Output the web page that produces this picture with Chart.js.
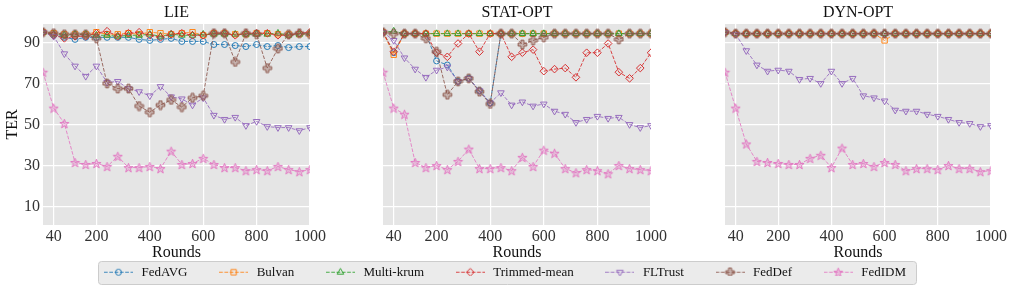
<!DOCTYPE html>
<html>
<head>
<meta charset="utf-8">
<script src="https://cdn.jsdelivr.net/npm/chart.js@4"></script>
<style>
  html, body { margin: 0; padding: 0; background: #fff; }
  #wrap { position: relative; width: 1016px; height: 307px; overflow: hidden; }
  #wrap canvas { position: absolute; left: 0; top: 0; }
</style>
</head>
<body>
<div id="wrap">
  <canvas id="lie" width="1016" height="307"></canvas>
  <canvas id="stat" width="1016" height="307"></canvas>
  <canvas id="dyn" width="1016" height="307"></canvas>
  <canvas id="legend" width="1016" height="80" style="top:236px"></canvas>
</div>
<script>
// x positions (rounds) and axis ticks
const rounds = [0, 40, 80, 120, 160, 200, 240, 280, 320, 360, 400, 440, 480, 520, 560, 600, 640, 680, 720, 760, 800, 840, 880, 920, 960, 1000];
const xTicks = [40, 200, 400, 600, 800, 1000];
const yTicks = [10, 30, 50, 70, 90];
const methods = ['FedAVG', 'Bulyan', 'Multi-krum', 'Trimmed-mean', 'FLTrust', 'FedDef', 'FedIDM'];

// LIE
const lieFedAVG = [95, 93.5, 92.5, 91.5, 92.5, 92.5, 92.5, 92.5, 92.5, 91.5, 91, 91.5, 92, 90.5, 90.5, 90.5, 89, 89, 88.5, 88, 89, 88, 88.5, 87.5, 88, 88];
const lieBulyan = [95, 94.5, 94, 94, 94, 95, 94, 94, 94.5, 94, 95, 94.5, 94, 94.5, 95, 93.5, 94.5, 94.5, 94, 94, 94.5, 94.5, 94, 94, 94, 94];
const lieMultiKrum = [95, 94, 93.5, 94, 94, 93.5, 93.5, 93, 93.5, 93.5, 94, 93, 94, 93.5, 93.5, 94, 94, 94, 94, 94, 94, 94, 94.5, 93.5, 94, 94.5];
const lieTrimmed = [95, 93.5, 92, 93, 93, 94.5, 95.5, 93, 94.5, 95, 93.5, 92.5, 94, 94.5, 93.5, 93.5, 94.5, 94.5, 93.5, 94.5, 94.5, 94.5, 93.5, 93.5, 94.5, 95];
const lieFLTrust = [95, 93, 84.5, 78.5, 73.5, 78.5, 70.5, 71, 67.5, 66, 64, 68.5, 63.5, 62.5, 59.5, 63, 54.5, 52.5, 53.5, 49.5, 51.5, 49, 48.5, 48.5, 47, 48.5];
const lieFedDef = [95, 94.5, 94, 94, 94, 92, 70, 67.5, 67.5, 59, 56, 59.5, 62, 58.5, 63, 64, 94.5, 94.5, 80.5, 94.5, 94, 77.5, 87, 94, 94.5, 94];
const lieFedIDM = [75.5, 58, 50.5, 31.5, 30.5, 31, 29.5, 34.5, 29, 29, 29.5, 28.5, 37, 30.5, 31, 33.5, 30.5, 29, 29, 27.5, 28, 27.5, 29.5, 28, 27, 28];

// STAT-OPT
const statFedAVG = [95, 85, 94.3, 94.3, 94.3, 81, 79, 71, 72.5, 66.5, 60.5, 94.3, 94.3, 94.3, 94.3, 94.3, 94.3, 94.3, 94.3, 94.3, 94.3, 94.3, 94.3, 94.3, 94.3, 94.3];
const statBulyan = [95, 84, 94.3, 94.3, 94.3, 94.3, 94.3, 94.3, 94.3, 94.3, 94.3, 94.3, 94.3, 94.3, 94.3, 94.3, 94.3, 94.3, 94.3, 94.3, 94.3, 94.3, 94.3, 94.3, 94.3, 94.3];
const statMultiKrum = [95, 95.5, 94.3, 94.3, 94.3, 94.3, 94.3, 94.3, 94.3, 94.3, 94.3, 94.3, 94.3, 94.3, 94.3, 94.3, 94.3, 94.3, 94.3, 94.3, 94.3, 94.3, 94.3, 94.3, 94.3, 94.3];
const statTrimmed = [95, 85.5, 94.3, 94.3, 94.3, 85, 83, 89.5, 94.3, 85.5, 94.3, 94.3, 83, 85, 86.5, 76, 77, 77.5, 73, 85, 85, 89.5, 75.5, 72.5, 77.5, 85];
const statFLTrust = [95, 91, 82.5, 77, 73, 76.5, 78, 71, 72.5, 66.5, 60.5, 65.5, 59.5, 61, 59, 60, 56.5, 55, 51, 52.5, 54, 53, 53.5, 50, 48.5, 49.5];
const statFedDef = [95, 94.3, 94.3, 94.3, 92, 85.5, 64.5, 71, 72.5, 66, 60, 94.3, 94.3, 89, 91, 92.5, 94.3, 94.3, 94.3, 94.3, 94.3, 94.3, 91.5, 94.3, 94.3, 94.3];
const statFedIDM = [75.5, 58, 55, 31.5, 29, 30, 28, 32, 38, 28.5, 28.5, 29, 27.5, 34, 29.5, 37.5, 36, 28.5, 26.5, 28, 27.5, 26, 30, 28.5, 28, 27.5];

// DYN-OPT
const dynFedAVG = [95, 94.3, 94.3, 94.3, 94.3, 94.3, 94.3, 94.3, 94.3, 94.3, 94.3, 94.3, 94.3, 94.3, 94.3, 94.3, 94.3, 94.3, 94.3, 94.3, 94.3, 94.3, 94.3, 94.3, 94.3, 94.3];
const dynBulyan = [95, 94.3, 94.3, 94.3, 94.3, 94.3, 94.3, 94.3, 94.3, 94.3, 94.3, 94.3, 94.3, 94.3, 94.3, 91, 94.3, 94.3, 94.3, 94.3, 94.3, 94.3, 94.3, 94.3, 94.3, 94.3];
const dynMultiKrum = [95, 94.3, 94.3, 94.3, 94.3, 94.3, 94.3, 94.3, 94.3, 94.3, 94.3, 94.3, 94.3, 94.3, 94.3, 94.3, 94.3, 94.3, 94.3, 94.3, 94.3, 94.3, 94.3, 94.3, 94.3, 94.3];
const dynTrimmed = [95, 94.3, 94.3, 94.3, 94.3, 94.3, 94.3, 94.3, 94.3, 94.3, 94.3, 94.3, 94.3, 94.3, 94.3, 94.3, 94.3, 94.3, 94.3, 94.3, 94.3, 94.3, 94.3, 94.3, 94.3, 94.3];
const dynFLTrust = [95, 94, 86, 79, 76, 76.5, 76, 72, 72.5, 70, 76, 70, 72.5, 64, 63, 61.5, 57, 56.5, 56.5, 55, 54, 52.5, 51, 50.5, 49, 49.5];
const dynFedDef = [95, 94.3, 94.3, 94.3, 94.3, 94.3, 94.3, 94.3, 94.3, 94.3, 94.3, 94.3, 94.3, 94.3, 94.3, 94.3, 94.3, 94.3, 94.3, 94.3, 94.3, 94.3, 94.3, 94.3, 94.3, 94.3];
const dynFedIDM = [75.5, 58, 40.5, 32, 31.5, 31, 30.5, 30.5, 33.5, 35, 29, 38.5, 30.5, 31, 29.5, 31.5, 30.5, 27.5, 28.5, 28.5, 28, 30, 28.5, 28.5, 27, 27.5];

Chart.defaults.font.family = '"Liberation Serif", "DejaVu Serif", serif';
Chart.defaults.color = '#222';

function rgba(c, a) { return 'rgba(' + c + ',' + a + ')'; }

// hollow-ish custom markers for 'P' and '*'
function makeMarker(color, draw) {
  const c = document.createElement('canvas');
  c.width = 11; c.height = 11;
  const ctx = c.getContext('2d');
  ctx.beginPath();
  draw(ctx, 5.5, 5.5);
  ctx.closePath();
  ctx.fillStyle = rgba(color, 0.35);
  ctx.fill();
  ctx.strokeStyle = rgba(color, 0.95);
  ctx.lineWidth = 1;
  ctx.stroke();
  return c;
}
const plusMarker = makeMarker('140,86,75', (ctx, cx, cy) => {
  const a = 4.3, b = 1.5;
  const pts = [[-b, -a], [b, -a], [b, -b], [a, -b], [a, b], [b, b], [b, a], [-b, a], [-b, b], [-a, b], [-a, -b], [-b, -b]];
  pts.forEach(p => ctx.lineTo(cx + p[0], cy + p[1]));
});
const starMarker = makeMarker('227,119,194', (ctx, cx, cy) => {
  for (let k = 0; k < 10; k++) {
    const r = k % 2 ? 2 : 4.8;
    const ang = -Math.PI / 2 + k * Math.PI / 5;
    ctx.lineTo(cx + r * Math.cos(ang), cy + 0.5 + r * Math.sin(ang));
  }
});

const series = [
  { color: '31,119,180', style: 'circle', radius: 3 },
  { color: '255,127,14', style: 'rect', radius: 3.8 },
  { color: '44,160,44', style: 'triangle', radius: 3.8 },
  { color: '214,39,40', style: 'rectRot', radius: 3.8 },
  { color: '148,103,189', style: 'triangle', radius: 3.8, rotation: 180 },
  { color: '140,86,75', style: plusMarker, radius: 4 },
  { color: '227,119,194', style: starMarker, radius: 4 }
];

function panelDatasets(values) {
  return values.map((vals, i) => ({
    label: methods[i],
    data: vals.map((v, j) => ({ x: rounds[j], y: v })),
    borderColor: rgba(series[i].color, 0.85),
    borderWidth: 1,
    borderDash: [3.7, 1.6],
    pointStyle: series[i].style,
    pointRadius: series[i].radius,
    pointRotation: series[i].rotation || 0,
    pointBorderColor: rgba(series[i].color, 0.95),
    pointBackgroundColor: 'rgba(0,0,0,0)',
    pointBorderWidth: 1,
    tension: 0,
    clip: 0,
    order: methods.length - 1 - i
  }));
}

const plotBg = {
  id: 'plotBg',
  beforeDraw(chart) {
    const a = chart.chartArea;
    const ctx = chart.ctx;
    ctx.save();
    ctx.fillStyle = '#e5e5e5';
    ctx.fillRect(a.left, a.top, a.right - a.left, a.bottom - a.top);
    ctx.restore();
  }
};

function panelChart(id, title, values, plotLeft, plotRight, showY) {
  const yWidth = showY ? 43 : 0;
  return new Chart(document.getElementById(id), {
    type: 'line',
    data: { datasets: panelDatasets(values) },
    options: {
      responsive: false,
      animation: false,
      events: [],
      layout: { padding: { left: plotLeft - yWidth, right: 1016 - plotRight, top: 0, bottom: 45 } },
      plugins: {
        legend: { display: false },
        tooltip: { enabled: false },
        title: {
          display: true, text: title, fullSize: false, color: '#111',
          font: { size: 16, weight: 'normal' }, padding: { top: 3.2, bottom: 1.6 }
        }
      },
      scales: {
        x: {
          type: 'linear', min: 0, max: 1000,
          afterBuildTicks: s => { s.ticks = xTicks.map(v => ({ value: v })); },
          afterFit: s => { s.height = 37; s.paddingLeft = 0; s.paddingRight = 0; },
          grid: { color: '#ffffff', lineWidth: 1.2, drawTicks: false },
          border: { display: false },
          ticks: { autoSkip: false, maxRotation: 0, padding: 2, color: '#333', font: { size: 16 }, callback: v => String(v) },
          title: { display: true, text: 'Rounds', color: '#111', font: { size: 16 }, padding: 0 }
        },
        y: {
          min: 1, max: 99,
          afterBuildTicks: s => { s.ticks = yTicks.map(v => ({ value: v })); },
          afterFit: s => { s.width = yWidth; s.paddingTop = 0; s.paddingBottom = 0; },
          grid: { color: '#ffffff', lineWidth: 1.2, drawTicks: false },
          border: { display: false },
          ticks: { display: showY, padding: 3, color: '#333', font: { size: 16 } },
          title: { display: showY, text: 'TER', color: '#111', font: { size: 16 }, padding: { top: 3, bottom: 0 } }
        }
      }
    },
    plugins: [plotBg]
  });
}

panelChart('lie', 'LIE', [lieFedAVG, lieBulyan, lieMultiKrum, lieTrimmed, lieFLTrust, lieFedDef, lieFedIDM], 43, 310, true);
panelChart('stat', 'STAT-OPT', [statFedAVG, statBulyan, statMultiKrum, statTrimmed, statFLTrust, statFedDef, statFedIDM], 383, 651, false);
panelChart('dyn', 'DYN-OPT', [dynFedAVG, dynBulyan, dynMultiKrum, dynTrimmed, dynFLTrust, dynFedDef, dynFedIDM], 725, 991, false);

// legend handles: dashed line with marker, like "--o--"
const handles = series.map(s => {
  const c = document.createElement('canvas');
  c.width = 29; c.height = 11;
  const ctx = c.getContext('2d');
  ctx.strokeStyle = rgba(s.color, 0.85);
  ctx.lineWidth = 1;
  ctx.setLineDash([3.7, 1.6]);
  ctx.beginPath();
  ctx.moveTo(0, 5.5);
  ctx.lineTo(29, 5.5);
  ctx.stroke();
  ctx.setLineDash([]);
  ctx.strokeStyle = rgba(s.color, 0.95);
  ctx.fillStyle = 'rgba(0,0,0,0)';
  Chart.helpers.drawPoint(ctx, { pointStyle: s.style, radius: s.radius, rotation: s.rotation || 0, borderWidth: 1 }, 14.5, 5.5);
  return c;
});

const legendFrame = {
  id: 'legendFrame',
  beforeDraw(chart) {
    const boxes = chart.legend && chart.legend.legendHitBoxes;
    if (!boxes || !boxes.length) return;
    const first = boxes[0], last = boxes[boxes.length - 1];
    const x0 = Math.round(first.left - 4), x1 = Math.round(last.left + last.width + 10);
    const y0 = Math.round(first.top - 5), y1 = Math.round(first.top + first.height + 5);
    const ctx = chart.ctx;
    ctx.save();
    ctx.beginPath();
    ctx.roundRect(x0 + 0.5, y0 + 0.5, x1 - x0, y1 - y0, 3);
    ctx.fillStyle = '#ebebeb';
    ctx.fill();
    ctx.strokeStyle = '#cccccc';
    ctx.lineWidth = 1;
    ctx.stroke();
    ctx.restore();
  }
};

new Chart(document.getElementById('legend'), {
  type: 'line',
  data: { datasets: methods.map((m, i) => ({ label: m, data: [], borderColor: rgba(series[i].color, 0.85) })) },
  options: {
    responsive: false,
    animation: false,
    events: [],
    layout: { padding: { right: 8 } },
    scales: { x: { display: false }, y: { display: false } },
    plugins: {
      tooltip: { enabled: false },
      legend: {
        position: 'top',
        labels: {
          usePointStyle: true,
          pointStyleWidth: 33,
          padding: 29.7,
          color: '#111',
          font: { size: 13 },
          generateLabels: chart => chart.data.datasets.map((d, i) => ({
            text: d.label, pointStyle: handles[i], datasetIndex: i, hidden: false,
            fontColor: '#111', lineWidth: 0, strokeStyle: 'rgba(0,0,0,0)', fillStyle: 'rgba(0,0,0,0)'
          }))
        }
      }
    }
  },
  plugins: [legendFrame]
});
</script>
</body>
</html>
